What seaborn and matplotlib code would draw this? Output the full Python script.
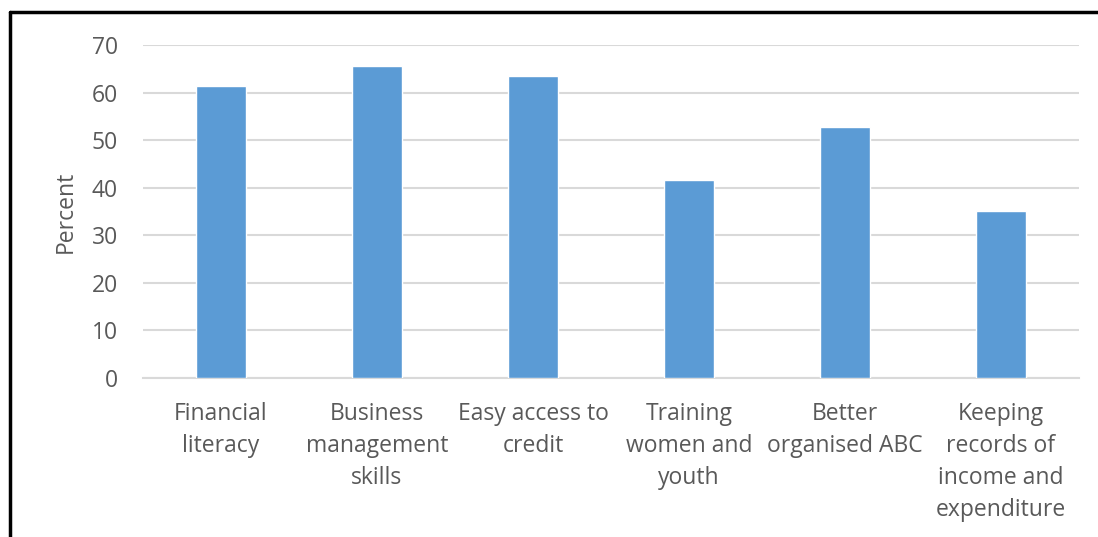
#!/usr/bin/env python3

import seaborn as sns
import pandas as pd
import matplotlib.pyplot as plt
from matplotlib.lines import Line2D

categories = [
    "Financial\nliteracy",
    "Business\nmanagement\nskills",
    "Easy access to\ncredit",
    "Training\nwomen and\nyouth",
    "Better\norganised ABC",
    "Keeping\nrecords of\nincome and\nexpenditure",
]
percent = [61.4, 65.5, 63.4, 41.7, 52.7, 35.2]
yticks = [0, 10, 20, 30, 40, 50, 60, 70]

df = pd.DataFrame({"category": categories, "percent": percent})

sns.set_style("white")
plt.rcParams["font.family"] = ["Open Sans", "DejaVu Sans"]

fig = plt.figure(figsize=(10.98, 5.37), dpi=100)
ax = fig.add_axes([143 / 1098, 1 - 378 / 537, (1079 - 143) / 1098, (378 - 45) / 537])

sns.barplot(data=df, x="category", y="percent", color="#5b9bd5", width=0.32,
            saturation=1, ax=ax, zorder=3)

grey = "#595959"
ax.set_ylim(0, 70)
ax.set_yticks(yticks)
ax.set_xlim(-0.5, len(categories) - 0.5)
ax.yaxis.grid(True, color="#d9d9d9", linewidth=1.5, zorder=0)
ax.tick_params(axis="both", length=0, labelsize=16.5, labelcolor=grey)
ax.tick_params(axis="y", pad=18)
ax.tick_params(axis="x", pad=17)
for lab in ax.get_xticklabels():
    lab.set_linespacing(1.45)
for side in ["top", "right", "left"]:
    ax.spines[side].set_visible(False)
ax.spines["bottom"].set_color("#d9d9d9")
ax.spines["bottom"].set_linewidth(1.5)
ax.set_xlabel("")
ax.set_ylabel("Percent", fontsize=16.5, color=grey)
ax.yaxis.set_label_coords(-0.07, 0.5)

# outer frame pieces visible in the crop
fig.add_artist(Line2D([10 / 1098, 1], [1 - 12 / 537, 1 - 12 / 537],
                      transform=fig.transFigure, color="black", linewidth=2.5))
fig.add_artist(Line2D([10 / 1098, 10 / 1098], [0, 1 - 12 / 537],
                      transform=fig.transFigure, color="black", linewidth=2.5))

fig.savefig("out.png", dpi=100)
plt.close()
